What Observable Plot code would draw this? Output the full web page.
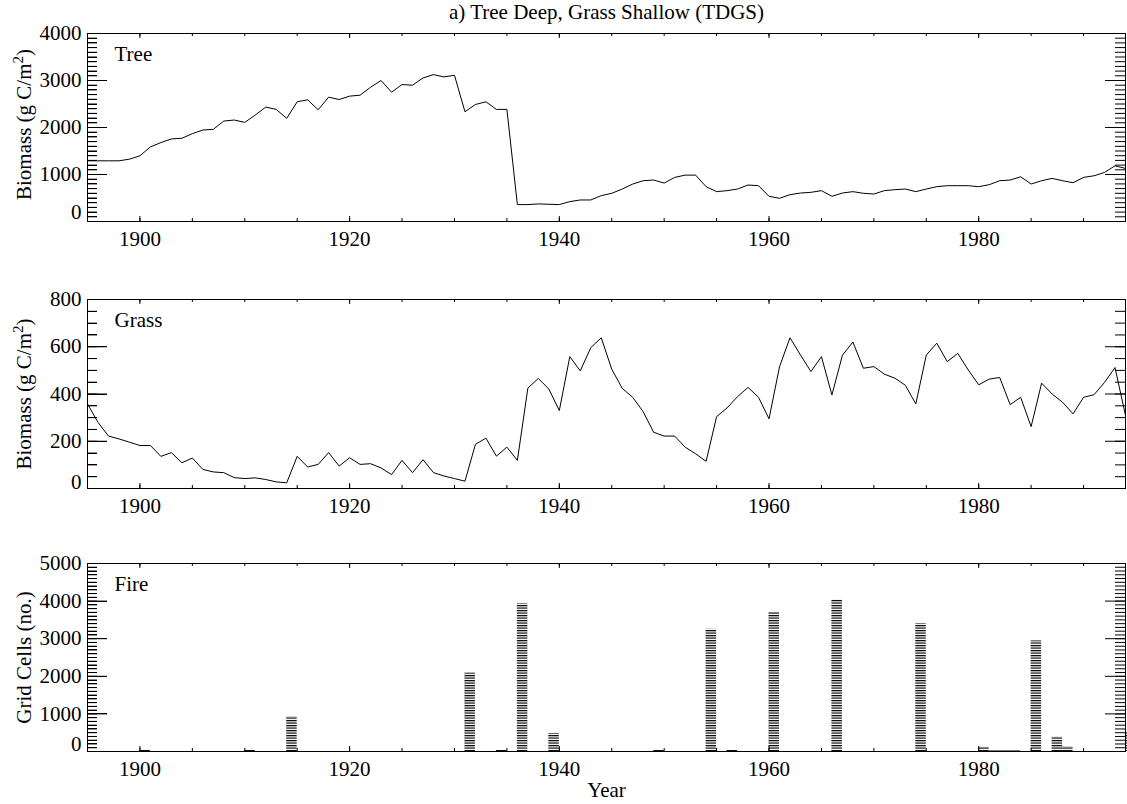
<!DOCTYPE html>
<html><head><meta charset="utf-8">
<script src="https://cdn.jsdelivr.net/npm/d3@7"></script>
<script src="https://cdn.jsdelivr.net/npm/@observablehq/plot@0.6"></script>
<style>
body{margin:0;background:#fff;}
#wrap{position:relative;width:1127px;height:804px;background:#fff;}
#wrap > svg{position:absolute;left:0;}
#wrap svg text{font-family:'Liberation Serif','Times New Roman',serif !important;}
</style></head><body><div id="wrap"></div>
<script>
// ---------- data ----------
const years = d3.range(1895, 1995);
const tree = [
  1291,1291,1291,1291,1326,1397,1587,1679,1757,1771,
  1869,1947,1961,2137,2159,2109,2265,2434,2385,2194,
  2547,2589,2377,2645,2596,2667,2688,2857,3000,2751,
  2914,2900,3054,3125,3076,3111,2335,2490,2547,2385,
  2385,360,360,374,367,360,423,458,458,550,
  600,691,797,868,882,818,938,987,987,741,
  635,656,691,776,762,536,494,571,606,621,
  656,536,606,635,600,585,656,677,691,635,
  691,741,762,762,762,741,783,868,882,952,
  797,868,917,868,825,938,973,1044,1185,1129
];
const grass = [
  358,280,222,210,196,182,182,136,152,109,
  129,81,70,67,46,42,45,38,28,24,
  136,91,102,152,95,130,102,105,87,59,
  119,67,122,67,53,42,31,187,213,137,
  175,119,425,466,421,330,558,498,596,638,
  505,424,386,325,238,222,222,175,147,115,
  304,341,389,428,386,295,515,638,565,495,
  558,396,564,620,509,516,484,467,437,358,
  565,615,537,572,502,439,463,470,355,386,
  262,446,400,365,316,386,397,449,512,309
];
const fireYears = [1900,1910,1914,1931,1934,1936,1939,1949,1954,1956,1960,1966,1974,1980,1981,1982,1983,1985,1987,1988,1994];
const fireCells = [30,40,920,2090,30,3930,480,30,3250,30,3700,4040,3400,110,15,15,15,2940,380,120,520];

const title = "a) Tree Deep, Grass Shallow (TDGS)";
const xLabelTicks = [1900,1920,1940,1960,1980];
const xMinorTicks = d3.range(1895, 1995, 5);
const treeTicks = [0,1000,2000,3000,4000];
const treeMinor = d3.range(0, 4001, 100);
const grassTicks = [0,200,400,600,800];
const grassMinor = d3.range(0, 801, 50);
const fireTicks = [0,1000,2000,3000,4000,5000];
const fireMinor = d3.range(0, 5001, 100);

// ---------- layout ----------
const FONT = "'Liberation Serif','Times New Roman',serif";
const FS = 21;
const W = 1127, ML = 87, MR = 2, MT = 33;
const FW = W - ML - MR; // frame width

function frameTicks(innerH, majorY, minorY) {
  const t = {stroke: "black", strokeWidth: 1};
  return [
    Plot.tickY(minorY, {y: d => d, insetRight: FW - 10, ...t}),
    Plot.tickY(majorY, {y: d => d, insetRight: FW - 20, ...t}),
    Plot.tickY(minorY, {y: d => d, insetLeft: FW - 10, ...t}),
    Plot.tickY(majorY, {y: d => d, insetLeft: FW - 20, ...t}),
    Plot.tickX(xMinorTicks, {x: d => d, insetTop: innerH - 3, ...t}),
    Plot.tickX(xLabelTicks, {x: d => d, insetTop: innerH - 5, ...t}),
    Plot.tickX(xMinorTicks, {x: d => d, insetBottom: innerH - 3, ...t}),
    Plot.tickX(xLabelTicks, {x: d => d, insetBottom: innerH - 5, ...t})
  ];
}

function panel({innerH, mb, domain, majorY, minorY, marks, label, ylabel, ylabelDy = 0, zeroDy, extra = []}) {
  return Plot.plot({
    width: W,
    height: MT + innerH + mb,
    marginLeft: ML, marginRight: MR, marginTop: MT, marginBottom: mb,
    style: {fontFamily: FONT, fontSize: FS + "px", background: "white", color: "black"},
    x: {domain: [1895, 1994]},
    y: {domain},
    marks: [
      ...marks,
      Plot.frame({stroke: "black", strokeWidth: 1}),
      Plot.axisX(xLabelTicks, {tickSize: 0, tickPadding: 10, fontSize: FS, label: null, tickFormat: d => String(d)}),
      Plot.axisY(majorY.filter(d => d !== 0), {anchor: "left", tickSize: 0, tickPadding: 6, fontSize: FS, label: null, tickFormat: d => String(d)}),
      Plot.text([majorY[0]], {y: d => d, frameAnchor: "left", dx: -6, dy: zeroDy, textAnchor: "end", text: d => String(d), fontSize: FS}),
      Plot.text([label], {frameAnchor: "top-left", dx: 27, dy: 27, lineAnchor: "bottom", textAnchor: "start", text: d => d, fontSize: FS}),
      Plot.text([ylabel], {frameAnchor: "left", dx: -63, dy: ylabelDy, rotate: -90, lineAnchor: "middle", textAnchor: "middle", text: d => d, fontSize: FS}),
      ...extra,
      ...frameTicks(innerH, majorY, minorY)
    ]
  });
}

// extra safeguard: left-side inward ticks placed through the plot's own y scale
function leftTicks(svg, majorY, minorY) {
  const y = svg.scale("y");
  const g = d3.select(svg).append("g").attr("stroke", "black").attr("stroke-width", 1)
    .attr("transform", "translate(0,0.5)");
  [[minorY, 10], [majorY, 20]].forEach(([vals, len]) => {
    vals.forEach(v => {
      const py = Math.round(y.apply(v));
      g.append("line").attr("x1", ML).attr("x2", ML + len).attr("y1", py).attr("y2", py);
    });
  });
}

const treeData = years.map((y, i) => ({year: y, value: tree[i]}));
const grassData = years.map((y, i) => ({year: y, value: grass[i]}));
const fireData = fireYears.map((y, i) => ({year: y, value: fireCells[i]}));

const biomassLabel = "Biomass (g C/m2)";
const p1 = panel({
  innerH: 188, mb: 40, domain: [0, 4000], majorY: treeTicks, minorY: treeMinor,
  marks: [Plot.line(treeData, {x: "year", y: "value", stroke: "black", strokeWidth: 1})],
  label: "Tree", ylabel: biomassLabel, ylabelDy: -3, zeroDy: -9,
  extra: [Plot.text([title], {frameAnchor: "top", dy: -21, lineAnchor: "middle", text: d => d, fontSize: FS})]
});
const p2 = panel({
  innerH: 189, mb: 40, domain: [0, 800], majorY: grassTicks, minorY: grassMinor,
  marks: [Plot.line(grassData, {x: "year", y: "value", stroke: "black", strokeWidth: 1})],
  label: "Grass", ylabel: biomassLabel, zeroDy: -6
});
const p3 = panel({
  innerH: 188, mb: 53, domain: [0, 5000], majorY: fireTicks, minorY: fireMinor,
  marks: [Plot.rectY(fireData, {x1: "year", x2: d => d.year + 1, y: "value", fill: "url(#hatch)", inset: 0})],
  label: "Fire", ylabel: "Grid Cells (no.)", zeroDy: -7,
  extra: [Plot.text(["Year"], {frameAnchor: "bottom", dy: 39, lineAnchor: "middle", text: d => d, fontSize: FS})]
});

leftTicks(p1, treeTicks, treeMinor);
leftTicks(p2, grassTicks, grassMinor);
leftTicks(p3, fireTicks, fireMinor);

// hatch pattern for the fire bars
const defs = d3.select(p3).insert("defs", ":first-child");
const pat = defs.append("pattern").attr("id", "hatch").attr("patternUnits", "userSpaceOnUse")
  .attr("width", 12).attr("height", 2.5);
pat.append("rect").attr("width", 12).attr("height", 1.2).attr("fill", "#000");

// superscript 2 in the biomass axis titles
[p1, p2].forEach(svg => {
  d3.select(svg).selectAll("text").filter(function() { return this.textContent === biomassLabel; })
    .each(function() {
      const t = d3.select(this);
      t.text("Biomass (g C/m");
      t.append("tspan").attr("dy", -8).attr("font-size", 15).text("2");
      t.append("tspan").attr("dy", 8).text(")");
    });
});

const wrap = document.getElementById("wrap");
[[p1, 0], [p2, 266], [p3, 530]].forEach(([svg, top]) => {
  svg.style.position = "absolute";
  svg.style.top = top + "px";
  svg.style.left = "0px";
  wrap.appendChild(svg);
});
</script></body></html>
